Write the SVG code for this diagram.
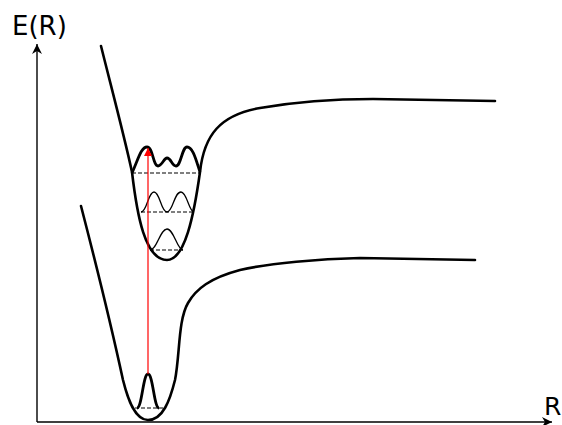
<svg xmlns="http://www.w3.org/2000/svg" width="562" height="425" viewBox="0 0 562 425">
<style>
.curve{fill:none;stroke:#000;stroke-width:2.6;stroke-linecap:round;stroke-linejoin:round}
.wf{fill:none;stroke:#000;stroke-width:1.3}
.wft{fill:none;stroke:#000;stroke-width:2.8;stroke-linejoin:round}
.dash{fill:none;stroke:#000;stroke-width:1.2;stroke-dasharray:4 2}
.axis{fill:none;stroke:#000;stroke-width:1.4}
.lbl{font-family:"DejaVu Sans",sans-serif;fill:#000}
</style>
<defs>
<marker id="ah" markerWidth="12" markerHeight="10" refX="10" refY="5" orient="auto" markerUnits="userSpaceOnUse">
<path d="M0,0 L10,5 L0,10 L3,5 Z" fill="#000"/>
</marker>
<marker id="rh" markerWidth="10" markerHeight="10" refX="8" refY="4" orient="auto" markerUnits="userSpaceOnUse">
<path d="M0,0 L8,4 L0,8 Z" fill="#f00"/>
</marker>
</defs>
<g id="axes">
<path class="axis" d="M37,422 L37,44" marker-end="url(#ah)"/>
<path class="axis" d="M37,422 L552,422" marker-end="url(#ah)"/>
<text class="lbl" x="12" y="35" font-size="26">E(R)</text>
<text class="lbl" x="544" y="415" font-size="25">R</text>
</g>
<g id="excited-state">
<path class="curve" d="M101,46 C112,90 124,135 132,172 C137,215 145,260 167,260 C185,260 194,215 200,172 C204,135 220,115 260,108 C300,101 340,99 373,99 L495,101"/>
<path class="dash" d="M132,173 L200,173"/>
<path class="dash" d="M141,212 L194,212"/>
<path class="dash" d="M150,250 L183,250"/>
<path class="wf" d="M150,250 C157,250 160,229 167,229 C174,229 177,250 183,250"/>
<path class="wf" d="M141,212 C147,212 148,192 154,192 C160,192 161,212 167,212 C173,212 174,192 181,192 C187,192 189,212 194,212"/>
<path class="wft" d="M132,173 C138,160 141,147 147,147 C153,147 153,166 158,166 C162,166 164,158 167,158 C171,158 172,166 176,166 C181,166 182,147 187,147 C193,147 196,160 200,172"/>
</g>
<g id="ground-state">
<path class="curve" d="M81,206 C95,260 110,320 123,380 C128,400 135,420 148,420 C163,420 170,400 175,380 C180,355 178,320 188,303 C196,289 210,278 240,270 C270,263 320,259 360,258 L475,260"/>
<path class="dash" d="M135,408 L163,408"/>
<path class="wft" d="M137,408 C142,408 143,374 148,374 C153,374 154,408 159,408"/>
</g>
<g id="connectors">
<path d="M148,374 L148,148" fill="none" stroke="#f00" stroke-width="1.2" marker-end="url(#rh)"/>
</g>
</svg>
